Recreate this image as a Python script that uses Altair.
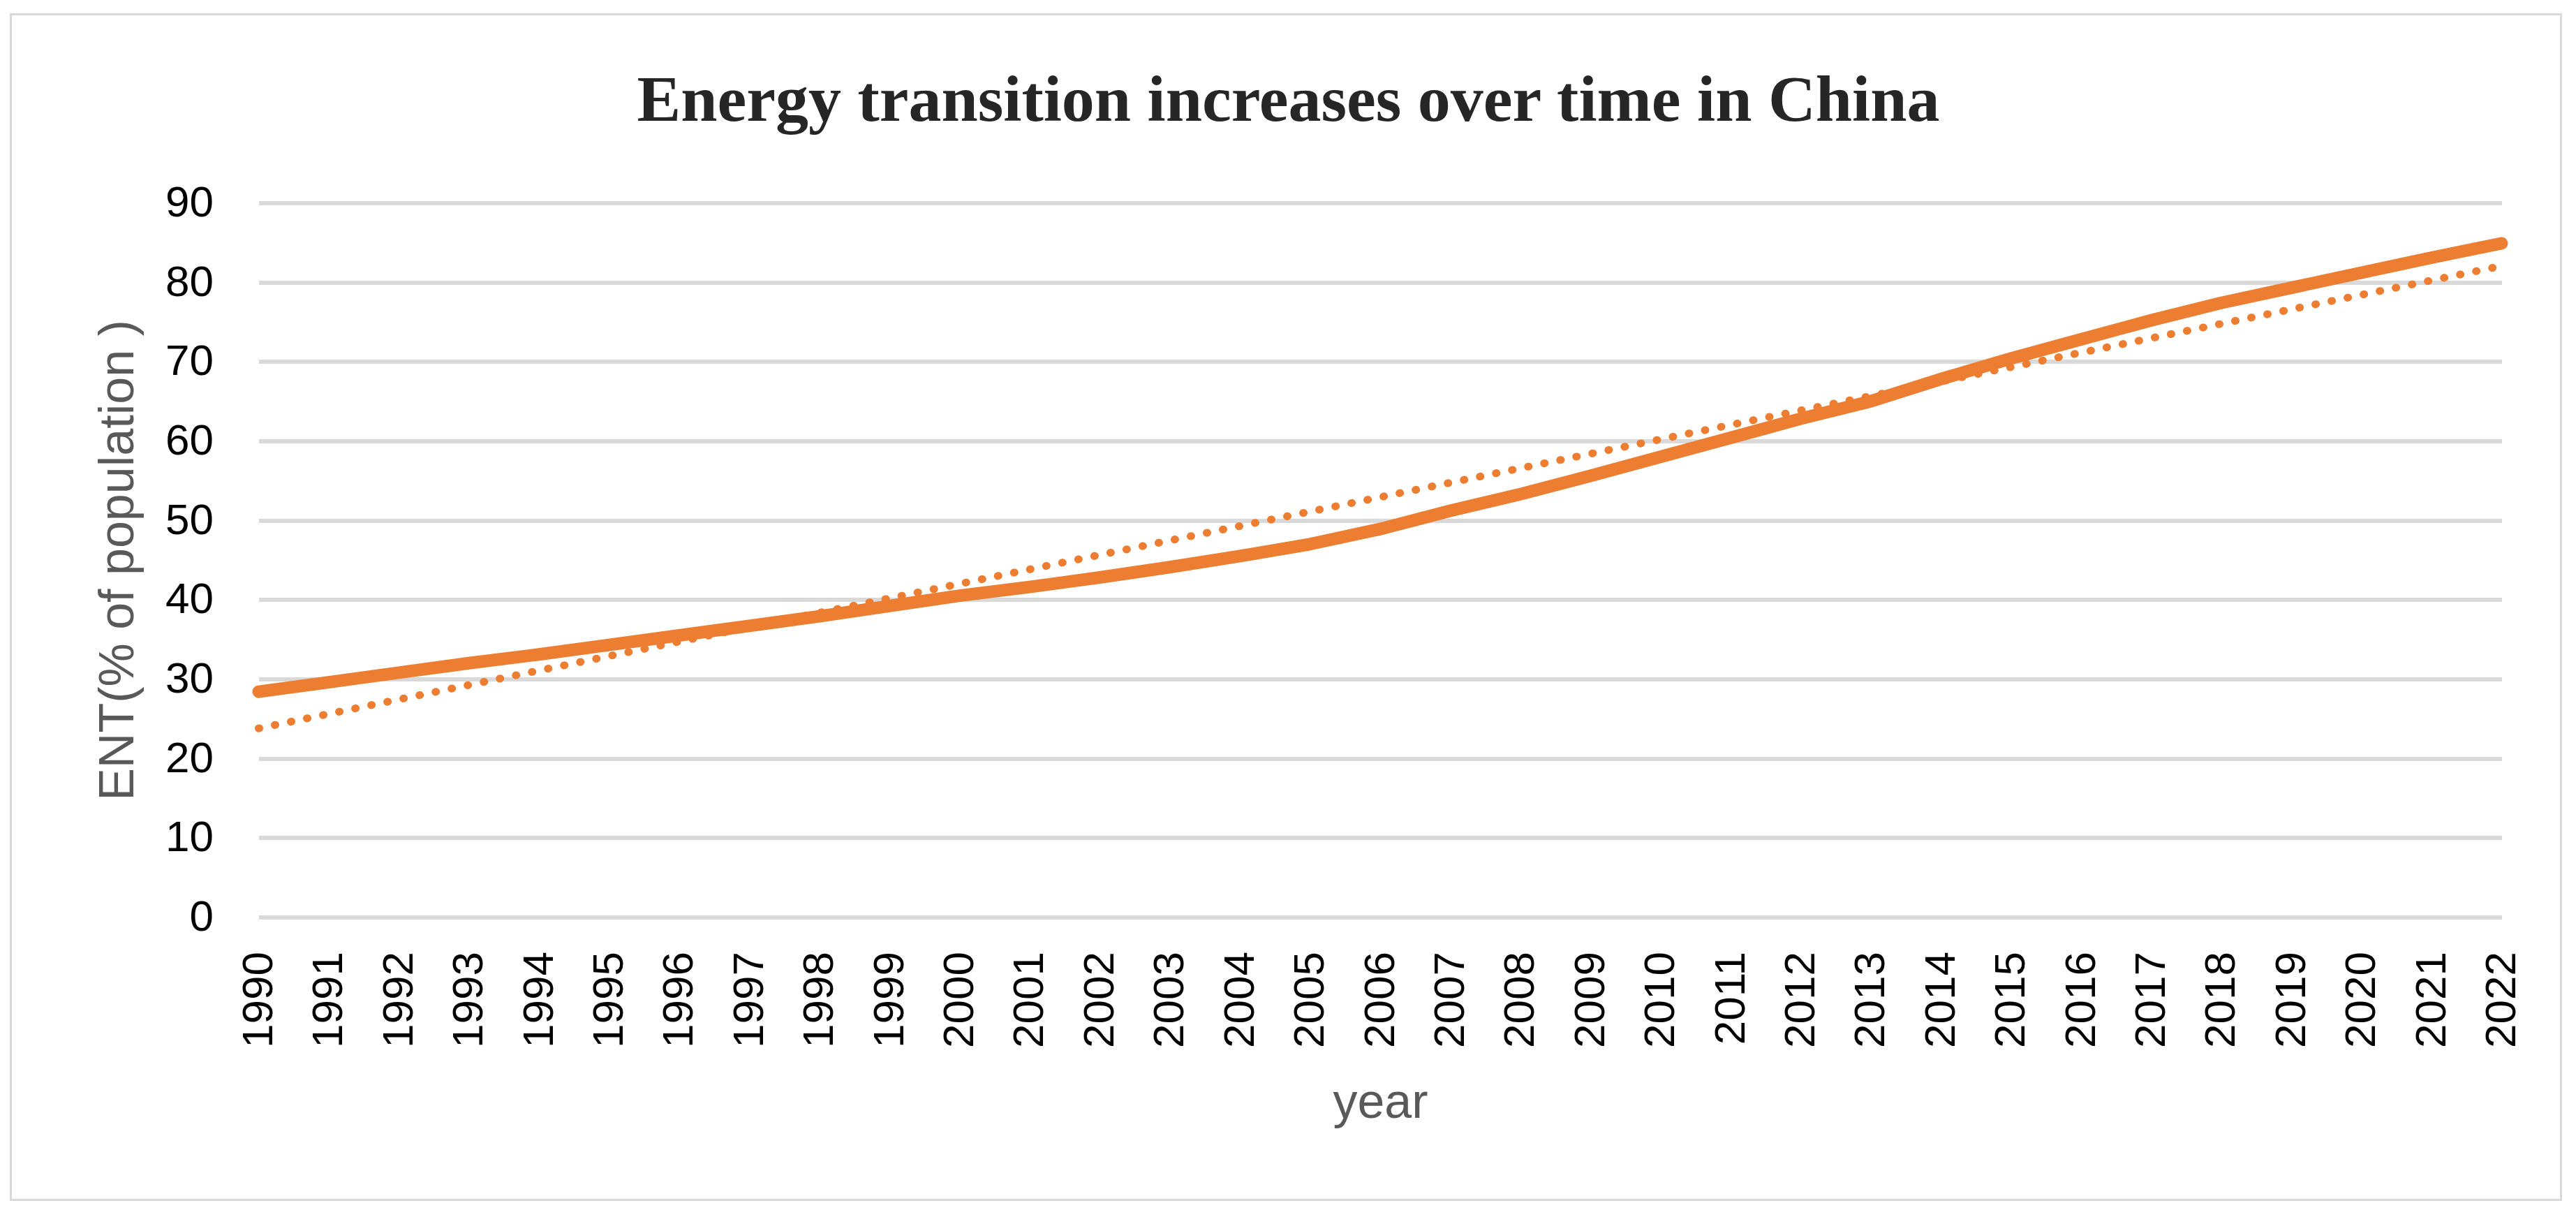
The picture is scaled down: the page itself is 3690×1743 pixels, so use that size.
import altair as alt
import pandas as pd

# ---- data ----
years = [1990, 1991, 1992, 1993, 1994, 1995, 1996, 1997, 1998, 1999,
         2000, 2001, 2002, 2003, 2004, 2005, 2006, 2007, 2008, 2009,
         2010, 2011, 2012, 2013, 2014, 2015, 2016, 2017, 2018, 2019,
         2020, 2021, 2022]
ent = [28.4, 29.6, 30.8, 32.0, 33.1, 34.3, 35.5, 36.7, 37.9, 39.2,
       40.5, 41.6, 42.8, 44.1, 45.5, 47.0, 48.9, 51.2, 53.3, 55.6,
       58.0, 60.4, 62.8, 65.0, 67.8, 70.4, 72.8, 75.2, 77.4, 79.3,
       81.2, 83.1, 84.9]
y_ticks = [0, 10, 20, 30, 40, 50, 60, 70, 80, 90]
title_text = "Energy transition increases over time in China"
x_title = "year"
y_title = "ENT(% of population )"

ORANGE = "#ED7D31"
GRID = "#D9D9D9"
SANS = "Liberation Sans"

df = pd.DataFrame({"year": years, "ENT": ent})

x_enc = alt.X(
    "year:Q",
    scale=alt.Scale(domain=[1990, 2022], nice=False, zero=False),
    axis=alt.Axis(
        values=years, format="d", labelAngle=-90, labelAlign="right",
        labelBaseline="middle", labelPadding=49, ticks=False, tickSize=0,
        domain=False, grid=False, labelFlush=False, labelOverlap=False,
        labelFont=SANS, labelFontSize=62, labelColor="#000000",
        title=x_title, titleFont=SANS, titleFontSize=70, titleFontWeight="normal",
        titleColor="#595959", titleX=1606.5, titleY=287,
        titleBaseline="alphabetic", titleAlign="center",
    ),
)
y_enc = alt.Y(
    "ENT:Q",
    scale=alt.Scale(domain=[0, 90], nice=False),
    axis=alt.Axis(
        values=y_ticks, labelPadding=65, ticks=False, tickSize=0,
        domain=False, grid=True, gridColor=GRID, gridWidth=6,
        labelFont=SANS, labelFontSize=62, labelColor="#000000",
        title=y_title, titleFont=SANS, titleFontSize=70, titleFontWeight="normal",
        titleColor="#595959", titleAngle=-90, titleX=-180, titleY=511.5,
        titleBaseline="alphabetic", titleAlign="center",
    ),
)

base = alt.Chart(df)

line = base.mark_line(
    color=ORANGE, strokeWidth=18, strokeCap="round", strokeJoin="round"
).encode(x=x_enc, y=y_enc)

trend = base.transform_regression("year", "ENT", method="linear").mark_line(
    color=ORANGE, strokeWidth=11, strokeDash=[1, 22.5], strokeCap="round"
).encode(x="year:Q", y="ENT:Q")

title = alt.Chart(pd.DataFrame({"t": [title_text]})).mark_text(
    font="Liberation Serif", fontWeight="bold", fontSize=94, color="#262626",
    align="center", baseline="alphabetic"
).encode(x=alt.value(1475), y=alt.value(-118), text="t:N")

border = alt.Chart(pd.DataFrame({"b": [1]})).mark_rect(
    filled=False, stroke=GRID, strokeWidth=3
).encode(x=alt.value(-355), x2=alt.value(3298), y=alt.value(-270), y2=alt.value(1428))

chart = alt.layer(border, line, trend, title).properties(
    width=3213, height=1023,
    padding={"left": 5.5, "top": 10.5, "right": 5, "bottom": 5},
    background="white",
).configure_view(strokeWidth=0)

chart.save("out.html", embed_options={"renderer": "svg", "actions": False})
